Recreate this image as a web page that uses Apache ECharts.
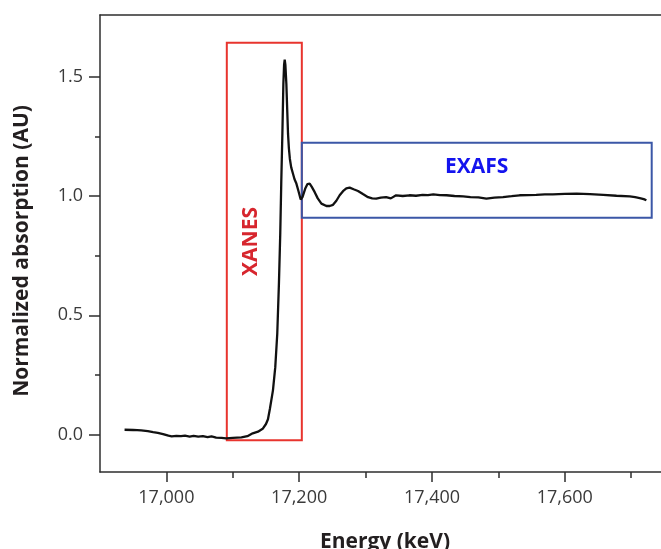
<!DOCTYPE html>
<html>
<head>
<meta charset="utf-8">
<script src="https://cdn.jsdelivr.net/npm/echarts@6/dist/echarts.min.js"></script>
<style>
  html, body { margin: 0; padding: 0; background: #fff; }
  #chart { width: 661px; height: 549px; }
</style>
</head>
<body>
<div id="chart"></div>
<script>
// Normalized X-ray absorption spectrum across the edge (energy in keV as labelled)
const energy = [
  16937, 16950, 16962, 16972, 16980, 16987, 16995, 17003, 17008, 17015,
  17022, 17028, 17035, 17041, 17048, 17055, 17062, 17068, 17075, 17083,
  17090, 17100, 17113, 17122, 17130, 17138, 17145, 17150, 17153, 17156,
  17160.5, 17164, 17167, 17169.5, 17171.5, 17173, 17174.7, 17176.2, 17177.3, 17178.2,
  17179.2, 17180.7, 17182, 17183.2, 17184.5, 17186, 17188, 17190.7, 17193, 17195.8,
  17199, 17202.3, 17205, 17209, 17212.5, 17215.8, 17219, 17223.4, 17228, 17233.5,
  17241, 17246, 17251, 17256, 17261, 17266, 17271, 17276, 17282, 17288.6,
  17296, 17303.7, 17310, 17316, 17323, 17331, 17338, 17346, 17356, 17366,
  17376, 17386, 17394, 17402, 17412, 17422, 17434, 17447, 17458, 17470,
  17482, 17494, 17507, 17520, 17532, 17545, 17557, 17570, 17582, 17600,
  17618, 17638, 17658, 17678, 17698, 17706, 17713, 17719, 17723
];
const absorption = [
  0.021, 0.020, 0.018, 0.015, 0.011, 0.008, 0.003, -0.004, -0.007, -0.005,
  -0.006, -0.004, -0.008, -0.005, -0.008, -0.006, -0.010, -0.007, -0.012, -0.013,
  -0.015, -0.013, -0.011, -0.006, 0.006, 0.013, 0.025, 0.045, 0.065, 0.110,
  0.186, 0.283, 0.423, 0.633, 0.842, 1.052, 1.261, 1.470, 1.550, 1.571,
  1.550, 1.470, 1.360, 1.261, 1.200, 1.155, 1.120, 1.093, 1.070, 1.052,
  1.020, 0.985, 0.995, 1.030, 1.050, 1.052, 1.038, 1.016, 0.990, 0.968,
  0.958, 0.958, 0.963, 0.980, 1.003, 1.020, 1.032, 1.035, 1.028, 1.021,
  1.008, 0.995, 0.990, 0.989, 0.993, 0.995, 0.990, 1.003, 1.000, 1.003,
  1.001, 1.005, 1.004, 1.007, 1.004, 1.003, 1.000, 0.998, 0.995, 0.994,
  0.989, 0.993, 0.995, 0.999, 1.003, 1.004, 1.005, 1.007, 1.007, 1.009,
  1.010, 1.008, 1.005, 1.001, 0.998, 0.995, 0.991, 0.987, 0.982
];

// Tick positions
const xMajorTicks = [17000, 17200, 17400, 17600];
const xMinorTicks = [17100, 17300, 17500, 17700];
const yMajorTicks = [0, 0.5, 1.0, 1.5];
const yMinorTicks = [0.25, 0.75, 1.25];

// Region boxes: [xStart, yTop, xEnd, yBottom]
const xanesBox = [17091, 1.642, 17204, -0.023];
const exafsBox = [17204, 1.223, 17731, 0.909];

const axisColor = '#2e2e2e';
const fontFamily = '"Open Sans", sans-serif';

const chart = echarts.init(document.getElementById('chart'), null, { renderer: 'canvas' });

const xRange = { min: 16900, max: 17745 };
const yRange = { min: -0.156, max: 1.758 };

const option = {
  backgroundColor: '#fff',
  animation: false,
  grid: { left: 100, right: 0, top: 15, bottom: 77 },
  xAxis: [
    {
      type: 'value', position: 'bottom', ...xRange,
      axisLine: { onZero: false, lineStyle: { color: axisColor, width: 1.5 } },
      axisTick: { customValues: xMajorTicks, length: 10, lineStyle: { color: axisColor, width: 1.5 } },
      axisLabel: {
        customValues: xMajorTicks, margin: 17, fontSize: 18, fontFamily, color: '#3a3a3a',
        formatter: v => v.toLocaleString('en-US')
      },
      splitLine: { show: false }
    },
    {
      type: 'value', position: 'bottom', ...xRange,
      axisLine: { show: false, onZero: false },
      axisTick: { customValues: xMinorTicks, length: 6, lineStyle: { color: axisColor, width: 1.5 } },
      axisLabel: { show: false },
      splitLine: { show: false }
    },
    {
      type: 'value', position: 'top', ...xRange,
      axisLine: { onZero: false, lineStyle: { color: axisColor, width: 1.5 } },
      axisTick: { show: false },
      axisLabel: { show: false },
      splitLine: { show: false }
    }
  ],
  yAxis: [
    {
      type: 'value', position: 'left', ...yRange,
      axisLine: { show: true, onZero: false, lineStyle: { color: axisColor, width: 1.5 } },
      axisTick: { show: true, customValues: yMajorTicks, length: 11, lineStyle: { color: axisColor, width: 1.5 } },
      axisLabel: {
        customValues: yMajorTicks, margin: 17, fontSize: 18, fontFamily, color: '#3a3a3a',
        formatter: v => v.toFixed(1)
      },
      splitLine: { show: false }
    },
    {
      type: 'value', position: 'left', ...yRange,
      axisLine: { show: false, onZero: false },
      axisTick: { show: true, customValues: yMinorTicks, length: 5, lineStyle: { color: axisColor, width: 1.5 } },
      axisLabel: { show: false },
      splitLine: { show: false }
    }
  ],
  graphic: [
    {
      type: 'text', x: 385, y: 542,
      style: {
        text: 'Energy (keV)', fill: '#231f20', font: 'bold 21px ' + fontFamily,
        align: 'center', verticalAlign: 'middle'
      }
    },
    {
      type: 'text', x: 22, y: 251, rotation: Math.PI / 2,
      style: {
        text: 'Normalized absorption (AU)', fill: '#231f20', font: 'bold 21px ' + fontFamily,
        align: 'center', verticalAlign: 'middle'
      }
    }
  ],
  series: [
    {
      type: 'line',
      xAxisIndex: 0, yAxisIndex: 0,
      data: energy.map((e, i) => [e, absorption[i]]),
      showSymbol: false,
      lineStyle: { color: '#111', width: 2.3 },
      z: 3,
      markArea: {
        silent: true,
        data: [
          [
            {
              coord: [xanesBox[0], xanesBox[1]],
              itemStyle: { color: 'rgba(0,0,0,0)', borderColor: '#e8342e', borderWidth: 2 },
              label: {
                show: true, position: 'inside', rotate: 90, offset: [0, -13],
                formatter: 'XANES', color: '#d7262e', fontSize: 21, fontWeight: 'bold', fontFamily
              }
            },
            { coord: [xanesBox[2], xanesBox[3]] }
          ],
          [
            {
              coord: [exafsBox[0], exafsBox[1]],
              itemStyle: { color: 'rgba(0,0,0,0)', borderColor: '#3b57a7', borderWidth: 2 },
              label: {
                show: true, position: 'insideTop', distance: 15,
                formatter: 'EXAFS', color: '#1414ee', fontSize: 21, fontWeight: 'bold', fontFamily
              }
            },
            { coord: [exafsBox[2], exafsBox[3]] }
          ]
        ]
      }
    }
  ]
};

chart.setOption(option);
</script>
</body>
</html>
